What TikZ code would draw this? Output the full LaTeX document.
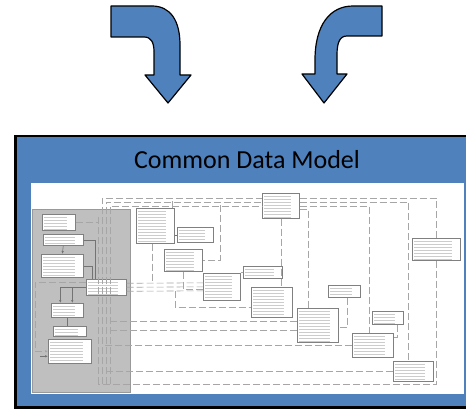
\documentclass[tikz,border=0pt]{standalone}
\usepackage{fontspec}
\setmainfont{Carlito}
\usetikzlibrary{arrows.meta}
\definecolor{cdmblue}{RGB}{79,129,189}
\tikzset{
  bendarrow/.style={fill=cdmblue, draw=black, line width=1.2pt, line join=round},
  tbl/.style={draw=black!50, fill=white, line width=0.6pt, inner sep=0pt, anchor=north west,
    path picture={\foreach \k in {1,...,12}{\draw[black!20, line width=0.9pt]
      ([xshift=2pt,yshift=-\k*3pt]path picture bounding box.north west) --
      ([xshift=-8pt,yshift=-\k*3pt]path picture bounding box.north east);}}},
  rel/.style={draw=black!35, line width=0.6pt, dash pattern=on 7pt off 3pt},
  relsolid/.style={draw=black!55, line width=0.6pt},
  tip/.style={-{Latex[length=3pt,width=2.5pt]}}
}
\begin{document}
\begin{tikzpicture}[x=1pt,y=-1pt]
    \useasboundingbox (0,0) rectangle (466,409);
    \clip (0,0) rectangle (466,409);

    % the two bent arrows
    \draw[bendarrow] (111,6) -- (152,6) .. controls (170,6) and (180,20) .. (180,45)
        -- (180,75) -- (191,75) -- (168,103) -- (145,75) -- (154,75) -- (154,52)
        .. controls (154,42) and (151,37) .. (144,37) -- (111,37) -- cycle;
    \draw[bendarrow] (382,6) -- (353,6) .. controls (330,6) and (315,25) .. (315,60)
        -- (315,74) -- (302,74) -- (324,103) -- (347,74) -- (337,74) -- (337,55)
        .. controls (337,42) and (340,36) .. (347,36) -- (382,36) -- cycle;

    % model panel
    \draw[fill=cdmblue, line width=2.5pt] (15.5,136) rectangle (472,407.5);
    \node[anchor=base] (title) at (247,168) {\fontsize{26}{30}\selectfont Common Data Model};
    \fill[white] (31,183) rectangle (464,394);

    % schema picture
    \draw[fill=black!25, draw=black!40, line width=0.8pt] (32,209) rectangle (130,392);
    \coordinate (v1) at (98,384);
    \coordinate (v2) at (102,384);
    \coordinate (v3) at (106,384);
    \coordinate (v4) at (110,384);

    \foreach \nm/\xa/\ya/\xb/\yb in {tA/42/214/75/230, tB/43/234/83/245, tC/41/254/83/277,
        tD/86/279/126/295, tE/51/303/83/317, tF/53/326/86/336, tG/48/339/91/363,
        tH/136/208/174/243, tI/177/227/213/242, tJ/164/249/202/271, tK/203/273/240/300,
        tL/262/193/299/218, tM/243/266/282/278, tN/251/287/292/317, tO/297/308/338/342,
        tP/328/285/360/297, tQ/372/311/403/324, tR/352/333/393/357, tS/412/238/460/260,
        tT/393/361/433/381}
      \node[tbl, minimum width={(\xb-\xa)*1pt}, minimum height={(\yb-\ya)*1pt}] (\nm) at (\xa,\ya) {};

    % links along the top
    \draw[rel] (v1) -- (98,215);
    \draw[rel] (v2) |- ([yshift=8pt]tL.west);
    \draw[rel] (v3) |- ([yshift=4pt]tL.west);
    \draw[rel] (v4) |- (tL.west);
    \draw[rel] ([yshift=8pt]tL.east) -| (tS.north);
    \draw[rel] ([yshift=4pt]tL.east) -| ([xshift=-5pt]tT.north);
    \draw[rel] (tL.east) -| ([xshift=-4pt]tR.north);
    \draw[rel] ([yshift=-3pt]tL.east) -| ([xshift=-10pt]tO.north);
    \draw[rel] (tL.south) -- (tL.south |- tN.north);
    \draw[rel] (172,201) -- (172,208);
    \draw[rel] (220,205) |- (tJ.east);

    % links out of the grey block
    \draw[rel] (tS.south) |- (v1);
    \draw[rel] (tT.west) -- (tT.west -| v2);
    \draw[rel] (tR.west) -- (tR.west -| v2);
    \draw[rel] ([yshift=4pt]tO.west) -- ([yshift=4pt]tO.west -| v4);
    \draw[rel] ([yshift=-5pt]tO.west) -- ([yshift=-5pt]tO.west -| v4);
    \draw[rel] ([yshift=4pt]tD.east) -- ([yshift=4pt]tK.west);
    \draw[rel] (tD.east) -- (tK.west);
    \draw[rel] ([yshift=-4pt]tD.east) -- ([yshift=-4pt]tK.west);
    \draw[rel] ([xshift=-3pt]tH.south) -- ++(0,38);
    \draw[rel] (tJ.south) |- ([yshift=-2pt]tK.west);
    \draw[rel] (175,291) |- ([yshift=-5pt]tN.west);
    \draw[rel] (tK.east |- tM.west) -- (tM.west);
    \draw[rel] ([xshift=3pt]tP.south) |- ([yshift=-2pt]tO.east);
    \draw[rel] ([xshift=9pt]tQ.south) |- ([yshift=8pt]tR.east);
    \draw[relsolid] (tH.east |- tI.west) -- (tI.west);

    % links inside the grey block
    \draw[rel] (tA.east) -- (tA.east -| v1);
    \draw[relsolid] (tB.east) -| ([xshift=9pt]tD.north west);
    \draw[relsolid] (tC.east) -| ([xshift=6pt]tD.north west);
    \draw[relsolid, tip] (tB.south) -- (tC.north);
    \coordinate (eA) at ([xshift=-7pt]tE.north);
    \coordinate (eB) at ([xshift=5pt]tE.north);
    \draw[relsolid] (tD.west) -- (tD.west -| eA);
    \draw[relsolid, tip] (tD.west -| eA) -- (eA);
    \draw[relsolid, tip] (tD.west -| eB) -- (eB);
    \draw[relsolid] (tE.south) -- (tE.south |- tF.north);
    \draw[rel, tip] ([yshift=5pt]tD.west) -| ([xshift=-13pt]tG.west) -- (tG.west);
    \draw[relsolid, tip] ([xshift=-8pt,yshift=-5pt]tG.west) -- ([yshift=-5pt]tG.west);
\end{tikzpicture}
\end{document}
